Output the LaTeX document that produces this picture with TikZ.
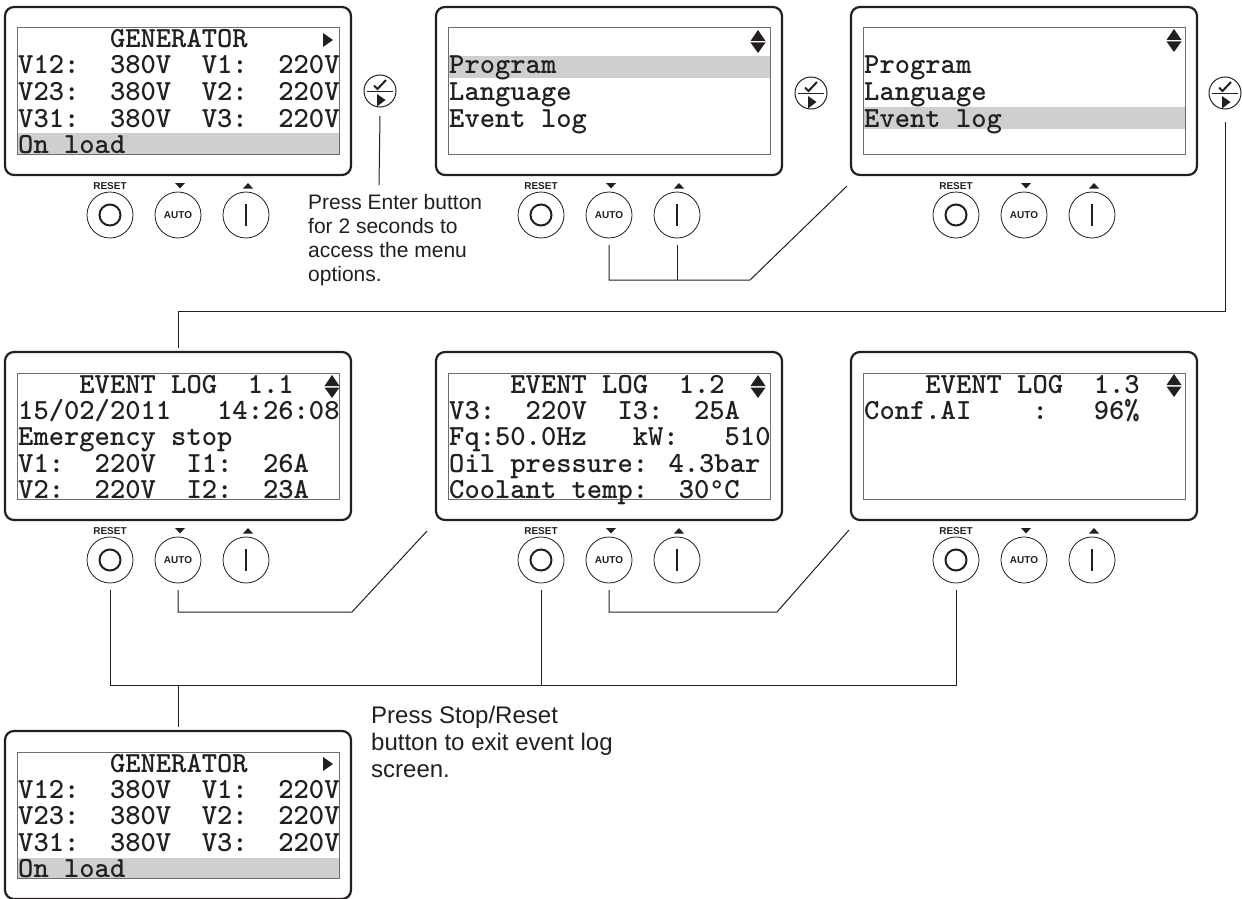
\documentclass[tikz,border=0pt]{standalone}
\usepackage{fontspec}
\setsansfont{Liberation Sans}
\newfontfamily\lcdfont{lmmonolt10-bold.otf}
\usepackage{tikz}
\definecolor{inkblack}{RGB}{35, 31, 32}
\definecolor{lcdgray}{RGB}{205, 207, 208}
\definecolor{lcdline}{RGB}{110, 110, 112}
\tikzset{
    paneframe/.style={draw=inkblack, line width=2.2pt, rounded corners=9pt, minimum width=346pt,
                      minimum height=168pt, inner sep=0pt, outer sep=4pt},
    lcdframe/.style={draw=lcdline, line width=1pt, minimum width=322pt, minimum height=126pt,
                     inner sep=0pt},
    lcdrow/.style={text=inkblack, anchor=base west, inner sep=0pt,
                   font=\fontsize{29.15}{29.15}\selectfont\lcdfont},
    btn/.style={draw=inkblack, circle, line width=0.8pt, minimum size=46pt, inner sep=0pt, outer sep=7pt,
                font=\fontsize{10}{10}\selectfont\sffamily\bfseries, text=inkblack},
    keybtn/.style={draw=inkblack, circle, line width=1pt, minimum size=32pt, inner sep=0pt, outer sep=9pt},
    btnlabel/.style={text=inkblack, anchor=base, inner sep=0pt,
                     font=\fontsize{10}{10}\selectfont\sffamily\bfseries},
    note/.style={text=inkblack, anchor=base west, inner sep=0pt, align=left, font=\sffamily},
    wire/.style={draw=inkblack, line width=1pt}
}
% display, its frame and the three buttons under it
\newcommand{\panel}[3]{
    \begin{scope}[shift={(#2,#3)}]
        \node[paneframe] (#1) at (173,84) {};
        \node[lcdframe] (#1-lcd) at (173.5,84) {};
        \node[btn] (#1-reset) at (105,208) {};
        \node[btn] (#1-auto)  at (173,208) {AUTO};
        \node[btn] (#1-on)    at (241,208) {};
        \node[btnlabel] (#1-resetlabel) at (105,182) {RESET};
        \draw[inkblack, line width=2pt] (105,208) circle (10.5);
        \draw[inkblack, line width=2pt] (241,197) -- (241,219);
        \fill[inkblack] (170,176) -- (180,176) -- (175,181.5) -- cycle;
        \fill[inkblack] (238,181.5) -- (248,181.5) -- (243,176) -- cycle;
    \end{scope}
}
\newcommand{\updown}[2]{
    \fill[inkblack] (#1-7.5,#2+11) -- (#1+7.5,#2+11) -- (#1,#2) -- cycle;
    \fill[inkblack] (#1-7.5,#2+12.5) -- (#1+7.5,#2+12.5) -- (#1,#2+23) -- cycle;
}
% tick over arrow in a circle
\newcommand{\enterkey}[3]{
    \node[keybtn] (#1) at (#2,#3) {};
    \begin{scope}[shift={(#2,#3)}]
        \draw[inkblack, line width=1pt] (-13,0) -- (13,0);
        \draw[inkblack, line width=2pt] (-6,-5.5) -- (-2.5,-2) -- (6,-11);
        \fill[inkblack] (-3,3) -- (-3,15.5) -- (5.5,9) -- cycle;
    \end{scope}
}

\begin{document}
\begin{tikzpicture}[x=1pt, y=-1pt]
    \useasboundingbox (0,0) rectangle (1242,899);
    % Highlighted rows
    \fill[lcdgray] (17.5,133) rectangle (339.5,154);
    \fill[lcdgray] (448.5,56) rectangle (770.5,78);
    \fill[lcdgray] (863.5,107) rectangle (1185.5,129);
    \fill[lcdgray] (17.5,858) rectangle (339.5,879);
    % Panels
    \panel{gen}{5}{7}
    \panel{prog}{436}{7}
    \panel{evt}{851}{7}
    \panel{logA}{5}{352}
    \panel{logB}{436}{352}
    \panel{logC}{851}{352}
    \panel{genB}{5}{731}
    % Generator screen
    \node[lcdrow] (genA1) at (18,48) {~~~~~~GENERATOR};
    \node[lcdrow] (genA2) at (18,74) {V12:~~380V~~V1:~~220V};
    \node[lcdrow] (genA3) at (18,100) {V23:~~380V~~V2:~~220V};
    \node[lcdrow] (genA4) at (18,127) {V31:~~380V~~V3:~~220V};
    \node[lcdrow] (genA5) at (18,153) {On load};
    \fill[inkblack] (323,33) -- (333,40) -- (323,47) -- cycle;
    % Menu screens
    \node[lcdrow] (prog2) at (449,74) {Program};
    \node[lcdrow] (prog3) at (449,100) {Language};
    \node[lcdrow] (prog4) at (449,127) {Event log};
    \updown{758}{30}
    \node[lcdrow] (evt2) at (864,74) {Program};
    \node[lcdrow] (evt3) at (864,100) {Language};
    \node[lcdrow] (evt4) at (864,127) {Event log};
    \updown{1174}{29}
    % Event log screens
    \node[lcdrow] (logA1) at (18,393) {~~~~EVENT LOG~~1.1};
    \node[lcdrow] (logA2) at (18,419) {15/02/2011~~~14:26:08};
    \node[lcdrow] (logA3) at (18,445) {Emergency stop};
    \node[lcdrow] (logA4) at (18,472) {V1:~~220V~~I1:~~26A};
    \node[lcdrow] (logA5) at (18,498) {V2:~~220V~~I2:~~23A};
    \updown{332}{375}
    \node[lcdrow] (logB1) at (449,393) {~~~~EVENT LOG~~1.2};
    \node[lcdrow] (logB2) at (449,419) {V3:~~220V~~I3:~~25A};
    \node[lcdrow] (logB3) at (449,445) {Fq:50.0Hz~~~kW:~~~510};
    \node[lcdrow] (logB4) at (449,472) {Oil pressure: 4.3bar};
    \node[lcdrow] (logB5) at (449,498) {Coolant temp:~~30{\ttfamily °}C};
    \updown{758}{375}
    \node[lcdrow] (logC1) at (864,393) {~~~~EVENT LOG~~1.3};
    \node[lcdrow] (logC2) at (864,419) {Conf.AI~~~~:~~~96\%};
    \updown{1174}{374}
    % Generator screen again
    \node[lcdrow] (genB1) at (18,772) {~~~~~~GENERATOR};
    \node[lcdrow] (genB2) at (18,798) {V12:~~380V~~V1:~~220V};
    \node[lcdrow] (genB3) at (18,824) {V23:~~380V~~V2:~~220V};
    \node[lcdrow] (genB4) at (18,851) {V31:~~380V~~V3:~~220V};
    \node[lcdrow] (genB5) at (18,877) {On load};
    \fill[inkblack] (323,757) -- (333,764) -- (323,771) -- cycle;
    % Enter keys
    \enterkey{genkey}{380}{91}
    \enterkey{progkey}{811}{93}
    \enterkey{evtkey}{1225}{93}
    % Notes
    \node[note, font=\fontsize{21}{24}\selectfont\sffamily] (enternote) at (308,281)
        {Press Enter button\\for 2 seconds to\\access the menu\\options.};
    \node[note, font=\fontsize{24}{27}\selectfont\sffamily] (stopnote) at (371,777)
        {Press Stop/Reset\\button to exit event log\\screen.};
    % Free ends
    \coordinate (genlead) at (379,185);
    \coordinate (progend) at (847,186);
    \coordinate (logAend) at (427,531);
    \coordinate (logBend) at (849,530);
    % Connectors
    \draw[wire] (genkey.south) -- (genlead);
    \draw[wire] (prog-auto.south) |- (750,280) -- (progend);
    \draw[wire] (prog-on.south) -- (prog-on.south |- 0,280);
    \draw[wire, shorten <=4pt] (evtkey.south) |- (178,311) -- (logA.north);
    \draw[wire] (logA-auto.south) |- (352,612) -- (logAend);
    \draw[wire] (logB-auto.south) |- (777,612) -- (logBend);
    \draw[wire] (logA-reset.south) |- (logC-reset.south |- 0,685) -- (logC-reset.south);
    \draw[wire] (logB-reset.south) -- (logB-reset.south |- 0,685);
    \draw[wire] (178,685) -- (genB.north);
\end{tikzpicture}
\end{document}
